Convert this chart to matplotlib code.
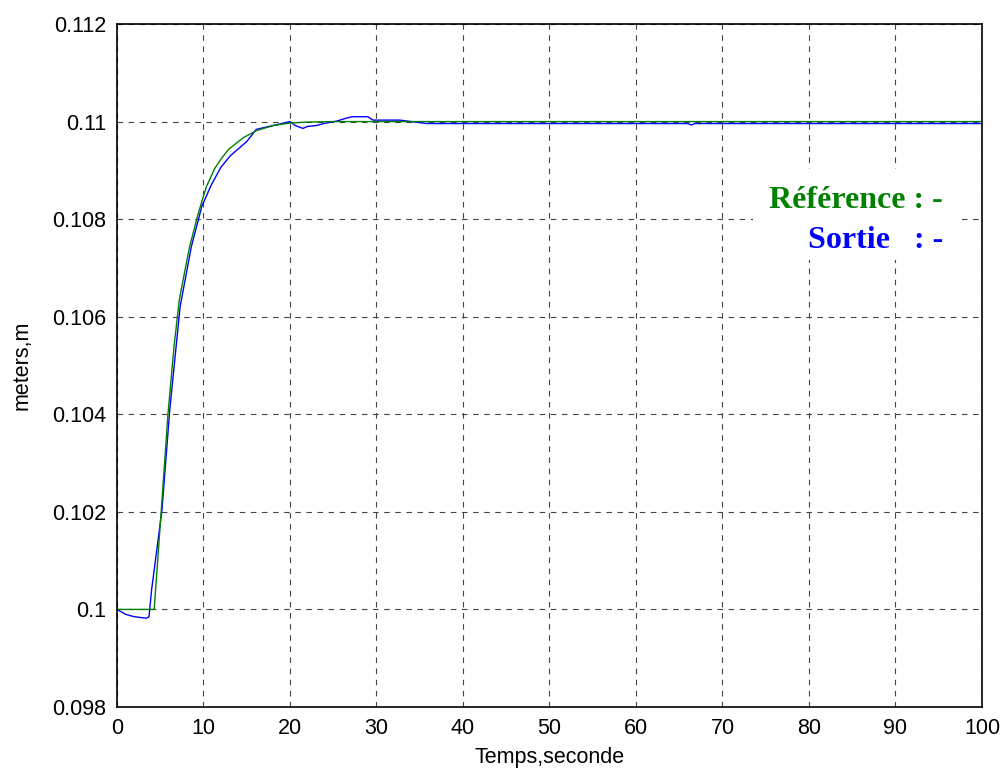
import matplotlib
matplotlib.use('Agg')
import matplotlib.pyplot as plt
import numpy as np

# reference (green)
t_ref = [0, 4.3, 5.1, 5.9, 6.6, 7.2, 7.8, 8.4, 9.4, 10.3, 11.3, 12.1, 12.9,
         14.6, 16.2, 18.1, 20.0, 22.0, 25.0, 100]
y_ref = [0.1, 0.1, 0.10199, 0.10402, 0.10540, 0.10634, 0.10690, 0.10744,
         0.10812, 0.10865, 0.10904, 0.10925, 0.10943, 0.10967, 0.10982,
         0.10992, 0.10997, 0.10999, 0.1100, 0.1100]

# output (blue)
t_out = [0, 1.0, 2.0, 3.4, 3.7, 4.0, 5.2, 6.1, 7.3, 8.6, 9.8, 10.9, 12.0,
         13.1, 15.0, 16.1, 18.8, 20.0, 20.6, 21.5, 22.0, 23.1, 23.9, 25.4,
         26.5, 27.2, 29.0, 29.6, 32.7, 35.8, 66.0, 66.4, 66.8, 100]
y_out = [0.1, 0.09990, 0.09985, 0.09982, 0.09985, 0.10040, 0.10204, 0.10409,
         0.10621, 0.10744, 0.10826, 0.10870, 0.10906, 0.10930, 0.10959,
         0.10984, 0.10995, 0.11000, 0.10992, 0.10986, 0.10990, 0.10992,
         0.10996, 0.11001, 0.11007, 0.11010, 0.11010, 0.11003, 0.11003,
         0.10996, 0.10996, 0.10993, 0.10996, 0.10996]

y_ticks = [0.098, 0.1, 0.102, 0.104, 0.106, 0.108, 0.11, 0.112]
y_tick_labels = ['0.098', '0.1', '0.102', '0.104', '0.106', '0.108', '0.11', '0.112']

fig = plt.figure(figsize=(10.06, 7.72), dpi=100)
ax = fig.add_axes([0.1163, 0.0842, 0.8598, 0.8847])

ax.plot(t_out, y_out, color='blue', linewidth=1)
ax.plot(t_ref, y_ref, color='green', linewidth=1)

ax.set_xlim(0, 100)
ax.set_ylim(0.098, 0.112)
ax.set_xticks(np.arange(0, 101, 10))
ax.set_yticks(y_ticks)
ax.set_yticklabels(y_tick_labels)
ax.tick_params(length=0, labelsize=15.5, pad=8)
for lab in ax.get_xticklabels() + ax.get_yticklabels():
    lab.set_family('Liberation Sans')

ax.grid(True, color='#444444', linestyle=(0, (5, 5)), linewidth=0.8)
for s in ax.spines.values():
    s.set_linewidth(1.2)

ax.set_xlabel('Temps,seconde', fontsize=15.5, family='Liberation Sans', labelpad=6)
ax.set_ylabel('meters,m', fontsize=15.5, family='Liberation Sans', labelpad=14)

ax.text(0.955, 0.742, 'Référence : -', transform=ax.transAxes, ha='right',
        va='center', color='green', fontsize=23, fontweight='bold',
        family='Liberation Serif',
        bbox=dict(facecolor='white', edgecolor='none', pad=12))
ax.text(0.955, 0.683, 'Sortie   : -', transform=ax.transAxes, ha='right',
        va='center', color='blue', fontsize=23, fontweight='bold',
        family='Liberation Serif',
        bbox=dict(facecolor='white', edgecolor='none', pad=4))

fig.savefig('out.png', dpi=100)
